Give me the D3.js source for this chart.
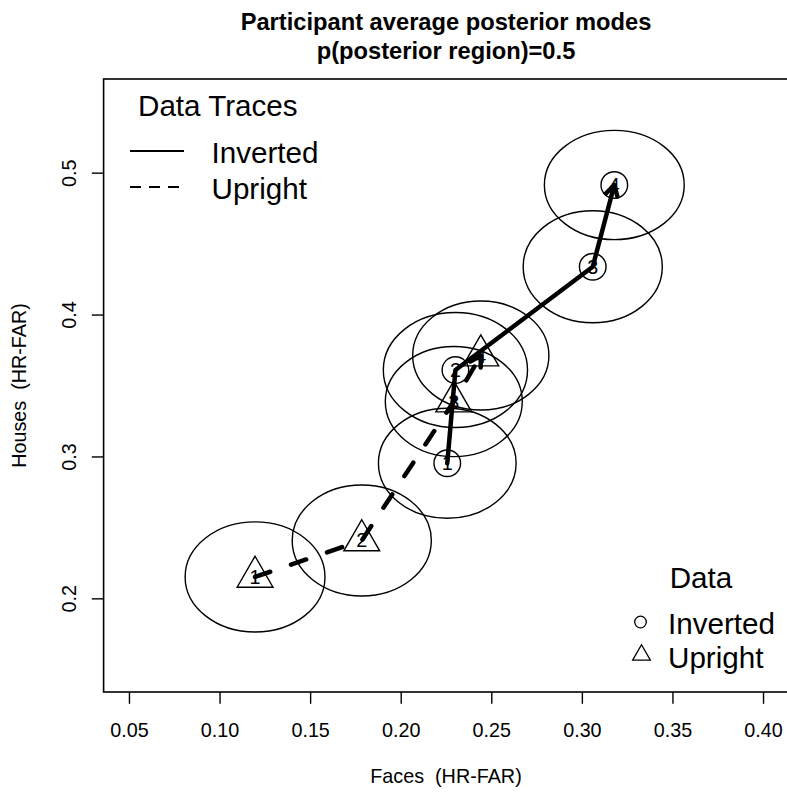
<!DOCTYPE html>
<html>
<head>
<meta charset="utf-8">
<script src="https://cdn.jsdelivr.net/npm/d3@7"></script>
<style>
  html, body { margin: 0; padding: 0; background: #fff; }
  svg { display: block; }
  text { font-family: "Liberation Sans", Arial, sans-serif; fill: #000; }
</style>
</head>
<body>
<svg id="chart" width="787" height="792"></svg>
<script>
// Posterior modes per trace point (1..4)
const traceLabels = ["1", "2", "3", "4"];
const invertedX = [0.2257, 0.2302, 0.3060, 0.3179];
const invertedY = [0.2952, 0.3609, 0.4337, 0.4913];
const uprightX = [0.1196, 0.1785, 0.2293, 0.2442];
const uprightY = [0.2151, 0.2408, 0.3387, 0.3711];

// Half-widths of the p=0.5 posterior regions (data units)
const invertedRx = [0.0380, 0.0398, 0.0384, 0.0386];
const invertedRy = [0.0388, 0.0405, 0.0395, 0.0385];
const uprightRx = [0.0386, 0.0384, 0.0378, 0.0376];
const uprightRy = [0.0388, 0.0391, 0.0388, 0.0384];

const xTicks = [0.05, 0.10, 0.15, 0.20, 0.25, 0.30, 0.35, 0.40];
const yTicks = [0.2, 0.3, 0.4, 0.5];
const xLim = [0.05, 0.40];
const yLim = [0.15, 0.55];

const titleLines = ["Participant average posterior modes", "p(posterior region)=0.5"];
const xTitle = "Faces  (HR-FAR)";
const yTitle = "Houses  (HR-FAR)";
const traceLegendTitle = "Data Traces";
const dataLegendTitle = "Data";
const seriesNames = ["Inverted", "Upright"];

const svg = d3.select("#chart");
const W = 787, H = 792;
const plot = { left: 103.6, right: 788.4, top: 79, bottom: 692 };

// R-style 4% axis extension
const ext = (lim) => { const d = (lim[1] - lim[0]) * 0.04; return [lim[0] - d, lim[1] + d]; };
const x = d3.scaleLinear().domain(ext(xLim)).range([plot.left, plot.right]);
const y = d3.scaleLinear().domain(ext(yLim)).range([plot.bottom, plot.top]);

const base = 19.75;

svg.append("rect").attr("width", W).attr("height", H).attr("fill", "#fff");

// Plot frame
svg.append("rect")
  .attr("x", plot.left).attr("y", plot.top)
  .attr("width", plot.right - plot.left).attr("height", plot.bottom - plot.top)
  .attr("fill", "none").attr("stroke", "#000").attr("stroke-width", 1.6);

// Axes
const xAxis = d3.axisBottom(x).tickValues(xTicks).tickFormat(d3.format(".2f")).tickSize(11.8).tickPadding(0);
const gx = svg.append("g").attr("transform", `translate(0,${plot.bottom})`).call(xAxis);
gx.select(".domain").remove();
gx.selectAll(".tick line").attr("stroke", "#000").attr("stroke-width", 1.4);
gx.selectAll(".tick text")
  .attr("y", 38).attr("dy", null).attr("dominant-baseline", "central")
  .style("font-size", base + "px").style("font-family", "Liberation Sans, Arial, sans-serif");

const yAxis = d3.axisLeft(y).tickValues(yTicks).tickFormat(d3.format(".1f")).tickSize(11.8).tickPadding(0);
const gy = svg.append("g").attr("transform", `translate(${plot.left},0)`).call(yAxis);
gy.select(".domain").remove();
gy.selectAll(".tick line").attr("stroke", "#000").attr("stroke-width", 1.4);
gy.selectAll(".tick text")
  .attr("x", null).attr("dy", null)
  .attr("text-anchor", "middle").attr("dominant-baseline", "central")
  .attr("transform", "translate(-35,0) rotate(-90)")
  .style("font-size", base + "px").style("font-family", "Liberation Sans, Arial, sans-serif");

// Titles
const cx = (plot.left + plot.right) / 2;
svg.append("g").selectAll("text").data(titleLines).join("text")
  .attr("x", cx).attr("y", (d, i) => 22 + i * 29)
  .attr("text-anchor", "middle").attr("dominant-baseline", "central")
  .style("font-size", (base * 1.2) + "px").style("font-weight", "bold")
  .text(d => d);

svg.append("text")
  .attr("x", cx).attr("y", 776)
  .attr("text-anchor", "middle").attr("dominant-baseline", "central")
  .style("font-size", base + "px").style("white-space", "pre")
  .text(xTitle);

svg.append("text")
  .attr("transform", `translate(19,${(plot.top + plot.bottom) / 2}) rotate(-90)`)
  .attr("text-anchor", "middle").attr("dominant-baseline", "central")
  .style("font-size", base + "px").style("white-space", "pre")
  .text(yTitle);

// Build per-point records
const inverted = traceLabels.map((lab, i) => ({ lab, x: invertedX[i], y: invertedY[i], rx: invertedRx[i], ry: invertedRy[i] }));
const upright = traceLabels.map((lab, i) => ({ lab, x: uprightX[i], y: uprightY[i], rx: uprightRx[i], ry: uprightRy[i] }));

const clip = svg.append("clipPath").attr("id", "plotclip").append("rect")
  .attr("x", plot.left).attr("y", plot.top)
  .attr("width", plot.right - plot.left).attr("height", plot.bottom - plot.top);
const g = svg.append("g").attr("clip-path", "url(#plotclip)");

// Posterior regions
const regions = upright.concat(inverted);
g.append("g").selectAll("ellipse").data(regions).join("ellipse")
  .attr("cx", d => x(d.x)).attr("cy", d => y(d.y))
  .attr("rx", d => x(d.x + d.rx) - x(d.x))
  .attr("ry", d => y(d.y) - y(d.y + d.ry))
  .attr("fill", "none").attr("stroke", "#000").attr("stroke-width", 1.4);

// Point symbols (R pch 1 / pch 2 geometry)
const symR = 13.3;
const triPath = (r) => {
  const top = 1.5551 * r, half = 1.3468 * r, bot = 0.7776 * r;
  return `M0,${-top}L${half},${bot}L${-half},${bot}Z`;
};

g.append("g").selectAll("circle").data(inverted).join("circle")
  .attr("cx", d => x(d.x)).attr("cy", d => y(d.y)).attr("r", symR)
  .attr("fill", "none").attr("stroke", "#000").attr("stroke-width", 1.4);

g.append("g").selectAll("path").data(upright).join("path")
  .attr("transform", d => `translate(${x(d.x)},${y(d.y)})`)
  .attr("d", triPath(symR))
  .attr("fill", "none").attr("stroke", "#000").attr("stroke-width", 1.4);

// Point numbers
g.append("g").selectAll("text").data(regions).join("text")
  .attr("x", d => x(d.x)).attr("y", d => y(d.y))
  .attr("text-anchor", "middle").attr("dominant-baseline", "central")
  .style("font-size", base + "px")
  .text(d => d.lab);

// Traces with arrowheads at the last point
const line = d3.line().x(d => x(d.x)).y(d => y(d.y));
function arrowHead(pts, len) {
  const a = pts[pts.length - 2], b = pts[pts.length - 1];
  const x1 = x(a.x), y1 = y(a.y), x2 = x(b.x), y2 = y(b.y);
  const ang = Math.atan2(y2 - y1, x2 - x1);
  const s = Math.PI / 6;
  return `M${x2 - len * Math.cos(ang - s)},${y2 - len * Math.sin(ang - s)}L${x2},${y2}L${x2 - len * Math.cos(ang + s)},${y2 - len * Math.sin(ang + s)}`;
}

const traceW = 4.5;
g.append("path").datum(inverted).attr("d", line)
  .attr("fill", "none").attr("stroke", "#000").attr("stroke-width", traceW)
  .attr("stroke-linecap", "round").attr("stroke-linejoin", "round");
g.append("path").attr("d", arrowHead(inverted, 12))
  .attr("fill", "none").attr("stroke", "#000").attr("stroke-width", traceW)
  .attr("stroke-linecap", "round").attr("stroke-linejoin", "round");

g.append("path").datum(upright).attr("d", line)
  .attr("fill", "none").attr("stroke", "#000").attr("stroke-width", traceW)
  .attr("stroke-dasharray", "16,22")
  .attr("stroke-linecap", "round").attr("stroke-linejoin", "round");
g.append("path").attr("d", arrowHead(upright, 12))
  .attr("fill", "none").attr("stroke", "#000").attr("stroke-width", traceW)
  .attr("stroke-linecap", "round").attr("stroke-linejoin", "round");

// Legend: trace line styles
const legFont = base * 1.5;
const lg1 = svg.append("g");
lg1.append("text").attr("x", 138).attr("y", 105)
  .attr("dominant-baseline", "central").style("font-size", legFont + "px")
  .text(traceLegendTitle);
const legRows1 = [{ name: seriesNames[0], dash: null, yy: 151 }, { name: seriesNames[1], dash: "11,8", yy: 187 }];
lg1.selectAll("line").data(legRows1).join("line")
  .attr("x1", 130).attr("x2", 184).attr("y1", d => d.yy).attr("y2", d => d.yy)
  .attr("stroke", "#000").attr("stroke-width", 2.2)
  .attr("stroke-dasharray", d => d.dash);
lg1.selectAll("text.item").data(legRows1).join("text").attr("class", "item")
  .attr("x", 211.5).attr("y", d => d.yy + 1)
  .attr("dominant-baseline", "central").style("font-size", legFont + "px")
  .text(d => d.name);

// Legend: point symbols
const lg2 = svg.append("g");
lg2.append("text").attr("x", 701).attr("y", 577)
  .attr("text-anchor", "middle").attr("dominant-baseline", "central")
  .style("font-size", legFont + "px").text(dataLegendTitle);
lg2.append("circle").attr("cx", 640.5).attr("cy", 622).attr("r", 5.8)
  .attr("fill", "none").attr("stroke", "#000").attr("stroke-width", 1.3);
lg2.append("path").attr("transform", "translate(641.5,655)").attr("d", triPath(6.6))
  .attr("fill", "none").attr("stroke", "#000").attr("stroke-width", 1.3);
lg2.selectAll("text.item").data([{ name: seriesNames[0], yy: 623 }, { name: seriesNames[1], yy: 657 }])
  .join("text").attr("class", "item")
  .attr("x", 668).attr("y", d => d.yy)
  .attr("dominant-baseline", "central").style("font-size", legFont + "px")
  .text(d => d.name);
</script>
</body>
</html>
